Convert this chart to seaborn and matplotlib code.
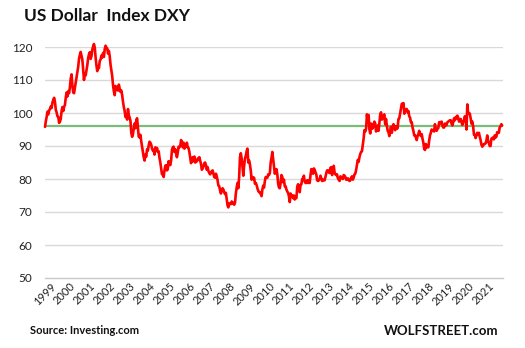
import numpy as np
import pandas as pd
import matplotlib
matplotlib.use("Agg")
import matplotlib.pyplot as plt
import matplotlib.transforms as mtransforms
from matplotlib.ticker import FixedLocator, NullFormatter, FixedFormatter
import seaborn as sns

# DXY readings, two per month (mid-month, month-end), one list per year
years = list(range(1999, 2022))
dxy = {
    1999: [95.8, 97.5, 98.8, 100.4, 99.6, 100.8, 101.2, 102.0, 101.5, 103.2, 104.0, 104.6,
           103.4, 101.0, 100.2, 99.0, 98.8, 97.0, 97.4, 98.2, 100.6, 101.8, 100.6, 101.9],
    2000: [102.4, 104.6, 106.2, 105.0, 106.6, 106.0, 107.8, 110.4, 111.7, 108.4, 106.2, 106.0,
           107.6, 109.2, 111.0, 112.6, 114.0, 116.4, 117.6, 118.5, 117.4, 116.2, 113.0, 110.0],
    2001: [112.0, 111.4, 113.0, 114.5, 116.6, 117.8, 118.4, 116.4, 117.2, 119.2, 120.2, 120.9,
           119.8, 116.8, 114.4, 112.7, 114.2, 113.6, 115.8, 116.2, 117.4, 116.8, 118.2, 117.0],
    2002: [119.4, 120.4, 119.8, 119.6, 118.0, 118.8, 117.2, 114.6, 113.0, 111.2, 108.4, 106.6,
           105.4, 108.2, 107.0, 107.8, 106.8, 108.6, 107.4, 106.4, 106.8, 105.4, 103.4, 101.8],
    2003: [100.6, 98.8, 99.4, 98.0, 101.2, 99.4, 98.6, 97.6, 94.0, 92.8, 93.6, 95.4,
           96.8, 95.4, 97.8, 98.4, 95.6, 92.8, 92.6, 93.4, 91.4, 89.8, 88.0, 86.6],
    2004: [85.6, 87.4, 86.8, 89.0, 88.6, 90.2, 91.3, 91.0, 90.4, 89.2, 88.6, 88.8,
           87.4, 89.6, 88.6, 89.4, 88.2, 88.4, 86.4, 85.0, 83.2, 81.4, 81.8, 80.6],
    2005: [82.6, 84.0, 84.2, 82.6, 83.0, 85.4, 84.6, 84.2, 85.6, 88.8, 89.6, 89.8,
           88.2, 89.0, 87.8, 86.6, 88.0, 89.8, 89.6, 90.0, 91.8, 91.2, 89.6, 91.0],
    2006: [89.2, 89.6, 90.2, 91.0, 89.6, 89.4, 88.2, 86.6, 84.8, 85.4, 86.6, 85.4,
           86.8, 85.0, 85.2, 85.4, 86.2, 85.8, 86.6, 85.6, 84.6, 82.8, 83.2, 83.8],
    2007: [84.8, 85.0, 84.2, 82.8, 83.6, 82.4, 81.8, 81.4, 81.8, 82.4, 82.6, 81.6,
           80.6, 80.4, 81.6, 80.8, 79.6, 78.0, 77.8, 76.6, 75.6, 76.4, 77.2, 76.8],
    2008: [76.0, 75.4, 75.8, 74.0, 72.0, 71.4, 72.6, 72.6, 72.4, 73.2, 72.6, 72.8,
           72.2, 72.8, 75.6, 77.4, 78.8, 77.2, 80.6, 86.6, 87.8, 86.2, 83.8, 81.0],
    2009: [84.0, 86.2, 87.0, 88.4, 89.2, 85.0, 85.6, 84.4, 82.6, 79.8, 80.6, 80.0,
           80.4, 78.6, 78.8, 78.2, 77.2, 76.4, 76.0, 76.0, 75.4, 74.8, 76.8, 78.0],
    2010: [77.4, 79.4, 80.6, 80.4, 80.4, 81.4, 81.2, 81.8, 85.0, 86.4, 88.2, 86.0,
           83.6, 81.6, 82.6, 83.0, 81.4, 78.6, 77.4, 77.2, 78.8, 81.2, 80.6, 79.0],
    2011: [79.8, 77.8, 77.8, 76.8, 76.2, 75.8, 74.8, 73.0, 75.6, 74.6, 75.0, 74.2,
           75.0, 73.8, 74.4, 74.2, 77.6, 78.4, 76.8, 76.0, 78.2, 78.4, 80.0, 80.2],
    2012: [81.0, 79.2, 78.8, 78.8, 79.6, 78.8, 79.6, 78.8, 81.2, 83.0, 82.6, 81.6,
           83.2, 82.8, 82.0, 81.4, 79.6, 79.4, 79.6, 80.0, 81.0, 80.2, 79.4, 79.8],
    2013: [79.6, 79.6, 80.6, 81.8, 82.6, 82.6, 82.0, 81.8, 83.4, 83.6, 81.2, 83.0,
           84.0, 82.0, 81.4, 81.2, 81.4, 80.2, 79.8, 79.4, 80.8, 80.6, 80.2, 80.0],
    2014: [81.2, 81.0, 80.6, 79.8, 79.8, 80.2, 79.8, 79.4, 79.6, 80.4, 80.8, 79.8,
           80.4, 81.4, 81.6, 82.8, 84.4, 85.8, 85.2, 86.6, 87.6, 88.2, 88.4, 90.4],
    2015: [92.2, 94.8, 94.4, 95.2, 99.6, 97.8, 99.4, 95.0, 93.8, 96.8, 95.2, 95.4,
           96.4, 97.4, 96.8, 94.4, 95.6, 96.2, 94.6, 97.0, 99.4, 100.2, 98.0, 98.6],
    2016: [99.2, 99.6, 96.6, 98.2, 96.2, 94.6, 94.2, 93.0, 94.6, 95.8, 94.0, 95.8,
           96.6, 95.6, 94.8, 96.0, 95.2, 95.4, 98.2, 98.4, 99.8, 101.4, 102.8, 102.6],
    2017: [103.0, 99.8, 100.6, 101.2, 101.2, 100.2, 100.6, 99.0, 98.6, 97.2, 97.2, 95.6,
           94.6, 93.2, 93.2, 92.6, 91.8, 93.0, 93.6, 94.6, 93.8, 93.0, 93.6, 92.2],
    2018: [91.0, 89.2, 88.8, 90.6, 89.6, 89.8, 89.6, 91.6, 93.2, 94.0, 95.0, 94.6,
           94.8, 94.4, 96.6, 95.0, 94.6, 95.2, 95.4, 97.2, 96.8, 97.2, 97.4, 96.2],
    2019: [95.6, 95.6, 96.8, 96.2, 96.4, 97.2, 97.4, 97.6, 97.8, 97.8, 96.8, 96.2,
           97.2, 98.4, 97.8, 98.8, 98.4, 99.2, 98.6, 97.4, 98.0, 98.2, 97.2, 96.4],
    2020: [97.2, 97.8, 99.0, 98.2, 95.0, 102.6, 99.8, 100.0, 99.8, 98.4, 96.8, 97.4,
           96.0, 93.4, 93.4, 92.4, 93.2, 94.0, 93.6, 94.0, 92.8, 91.8, 90.4, 89.8],
    2021: [90.2, 90.6, 90.6, 90.8, 91.6, 93.2, 91.6, 90.8, 90.0, 90.0, 92.2, 92.4,
           92.6, 92.0, 93.2, 92.6, 92.8, 94.2, 94.0, 94.0, 95.6, 96.0, 96.6, 96.2],
}
current_level = 96.1
year_labels = [str(y) for y in years]
y_ticks = [50, 60, 70, 80, 90, 100, 110, 120]

# Fractional-year time axis: 24 readings per year
t = np.concatenate([y + np.arange(24) / 24.0 for y in years])
v = np.concatenate([dxy[y] for y in years])
df = pd.DataFrame({"t": t, "dxy": v})

sns.set_theme(style="white")
plt.rcParams["font.family"] = ["Lato", "DejaVu Sans"]

fig = plt.figure(figsize=(5.25, 3.48), dpi=100)
ax = fig.add_axes([45 / 525, 1 - 278 / 348, 458 / 525, 231 / 348])

ax.set_ylim(50, 120)
ax.set_xlim(years[0], years[-1] + 1)
for yv in y_ticks[1:]:
    ax.axhline(yv, color="#d9d9d9", linewidth=1.0, zorder=0)

ax.axhline(current_level, color="#78bd78", linewidth=1.6, zorder=2)

sns.lineplot(data=df, x="t", y="dxy", ax=ax, color="#ff0000", linewidth=1.9,
             estimator=None, sort=False, zorder=3, clip_on=False)

ax.set_xlabel("")
ax.set_ylabel("")
for s in ["top", "right", "left"]:
    ax.spines[s].set_visible(False)
ax.spines["bottom"].set_color("#c8c8c8")
ax.spines["bottom"].set_linewidth(1.0)

ax.set_yticks(y_ticks)
ax.set_yticklabels([str(y) for y in y_ticks])
ax.tick_params(axis="y", length=0, pad=9, labelsize=8.5, labelcolor="#222222")

major = [years[0] + i for i in range(len(years) + 1)]
ax.xaxis.set_major_locator(FixedLocator(major))
ax.xaxis.set_major_formatter(NullFormatter())
ax.xaxis.set_minor_locator(FixedLocator([y + 0.5 for y in years]))
ax.xaxis.set_minor_formatter(FixedFormatter(year_labels))
ax.tick_params(axis="x", which="major", length=4, width=1, color="#c8c8c8", direction="out")
ax.tick_params(axis="x", which="minor", length=0, pad=2, labelsize=8, labelcolor="#222222")
shift = mtransforms.ScaledTranslation(-5 / 100, 0, fig.dpi_scale_trans)
for lab in ax.get_xticklabels(minor=True):
    lab.set_rotation(45)
    lab.set_ha("right")
    lab.set_rotation_mode("anchor")
    lab.set_transform(lab.get_transform() + shift)

fig.text(24 / 525, 1 - 16 / 348, "US Dollar  Index DXY", fontsize=12.5,
         fontweight="bold", color="#111111", ha="left", va="center")
fig.text(30 / 525, 1 - 331 / 348, "Source: Investing.com", fontsize=8,
         fontweight="bold", color="#111111", ha="left", va="center")
fig.text(498 / 525, 1 - 331 / 348, "WOLFSTREET.com", fontsize=9.5,
         fontweight="bold", color="#111111", ha="right", va="center")

fig.savefig("out.png", dpi=100, facecolor="white")
